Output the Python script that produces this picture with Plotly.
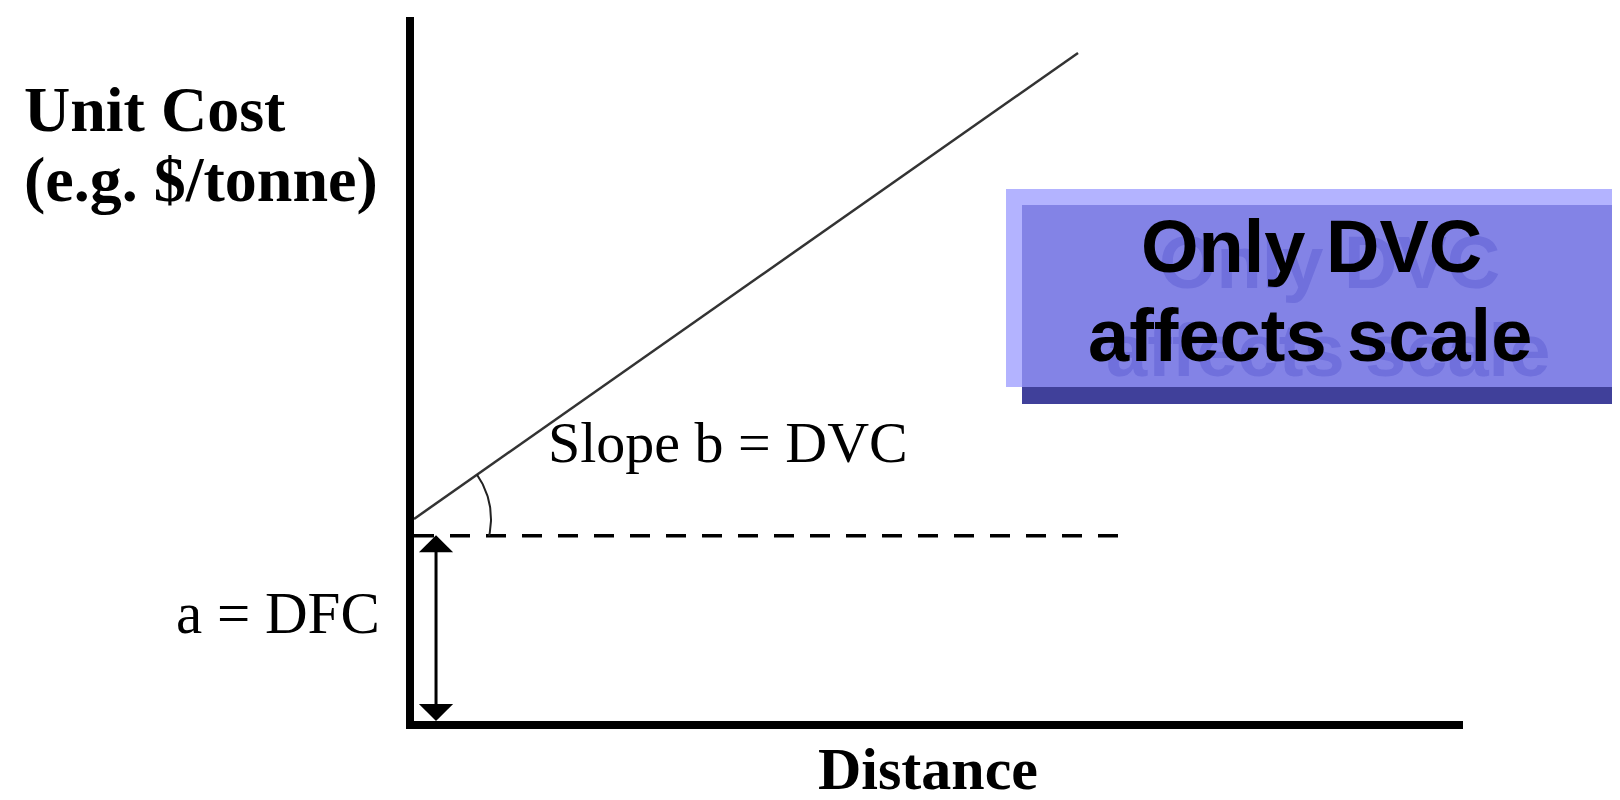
import numpy as np
import plotly.graph_objects as go

# ---- data ----
distance = [0.0, 6.33]          # start / end of total-cost line
unit_cost = [2.87, 9.49]        # a + b*d
dfc_level = [2.63, 2.63]        # dashed fixed-cost level
dfc_span = [0.0, 6.85]
arrow_x = 0.21
axis_range_x = [0, 10]
axis_range_y = [0, 10]

y_title_lines = ["Unit Cost", "(e.g. $/tonne)"]
x_title = "Distance"
slope_label = "Slope b = DVC"
dfc_label = "a = DFC"
box_lines = ["Only DVC", "affects scale"]

# ---- layout geometry (pixels) ----
W, H = 1620, 800
PL, PR, PT, PB = 406, 1455, 9, 713

def paper_x(px):
    return (px - PL) / (PR - PL)

def paper_y(py):
    return (PB - py) / (PB - PT)

xs = (PR - PL) / (axis_range_x[1] - axis_range_x[0])
ys = (PB - PT) / (axis_range_y[1] - axis_range_y[0])

fig = go.Figure()

# total cost line
fig.add_trace(go.Scatter(x=distance, y=unit_cost, mode="lines",
                         line=dict(color="#333333", width=2.5),
                         hoverinfo="skip", showlegend=False))
# dashed fixed cost level
fig.add_trace(go.Scatter(x=dfc_span, y=dfc_level, mode="lines",
                         line=dict(color="black", width=3.5, dash="20px,16px"),
                         hoverinfo="skip", showlegend=False))

# angle arc (computed in pixel space around the line start)
cx = PL + distance[0] * xs
cy = PB - unit_cost[0] * ys
r = 77
a0 = np.arctan2((unit_cost[1] - unit_cost[0]) * ys, (distance[1] - distance[0]) * xs)
dash_py = PB - dfc_level[0] * ys
a1 = -np.arcsin((dash_py - cy) / r)
ang = np.linspace(a0, a1, 40)
arc_x = (cx + r * np.cos(ang) - PL) / xs
arc_y = (PB - (cy - r * np.sin(ang))) / ys
fig.add_trace(go.Scatter(x=arc_x, y=arc_y, mode="lines",
                         line=dict(color="#222222", width=2),
                         hoverinfo="skip", showlegend=False))

# double-headed arrow for DFC
fig.add_annotation(x=arrow_x, y=0.0, ax=arrow_x, ay=dfc_level[0] + 0.03,
                   xref="x", yref="y", axref="x", ayref="y", text="",
                   showarrow=True, arrowhead=1, startarrowhead=1,
                   arrowside="end+start", arrowwidth=3, arrowsize=1.9,
                   startarrowsize=1.9, arrowcolor="black", standoff=0, startstandoff=0)

# box with shadow
shapes = [
    dict(type="rect", xref="paper", yref="paper",
         x0=paper_x(1014), x1=paper_x(1620), y0=paper_y(396), y1=paper_y(197),
         fillcolor="#40409A", line=dict(width=0), layer="above"),
    dict(type="rect", xref="paper", yref="paper",
         x0=paper_x(998), x1=paper_x(1606), y0=paper_y(379), y1=paper_y(181),
         fillcolor="#B3B3FF", line=dict(width=0), layer="above"),
    dict(type="rect", xref="paper", yref="paper",
         x0=paper_x(1014), x1=paper_x(1606), y0=paper_y(379), y1=paper_y(197),
         fillcolor="#8383E6", line=dict(width=0), layer="above"),
]
fig.update_layout(shapes=shapes)

def txt(s, px, py, size, family, bold=False, color="black", xanchor="center"):
    fig.add_annotation(text=f"<b>{s}</b>" if bold else s, xref="paper", yref="paper",
                       x=paper_x(px), y=paper_y(py), xanchor=xanchor, yanchor="middle",
                       showarrow=False, font=dict(size=size, family=family, color=color))

serif = "Liberation Serif"
sans = "Liberation Sans"

txt(y_title_lines[0], 14, 101, 64, serif, bold=True, xanchor="left")
txt(y_title_lines[1], 14, 171, 64, serif, bold=True, xanchor="left")
txt(x_title, 920, 761, 60, serif, bold=True)
txt(slope_label, 720, 434, 58, serif)
txt(dfc_label, 270, 605, 59, serif)

# shadow text then main text in the box
dx, dy = 18, 15
txt(box_lines[0], 1303 + dx, 239 + dy, 74, sans, bold=True, color="#7070DC")
txt(box_lines[1], 1302 + dx, 327 + dy, 74, sans, bold=True, color="#7070DC")
txt(box_lines[0], 1303, 239, 74, sans, bold=True)
txt(box_lines[1], 1302, 327, 74, sans, bold=True)

axis_common = dict(showgrid=False, zeroline=False, showticklabels=False, ticks="",
                   showline=True, linecolor="black", linewidth=8, fixedrange=True)
fig.update_xaxes(range=axis_range_x, **axis_common)
fig.update_yaxes(range=axis_range_y, **axis_common)

fig.update_layout(width=W, height=H, autosize=False,
                  margin=dict(l=PL, r=W - PR, t=PT, b=H - PB, pad=0),
                  plot_bgcolor="white", paper_bgcolor="white",
                  showlegend=False)

fig.write_html("out.html")
